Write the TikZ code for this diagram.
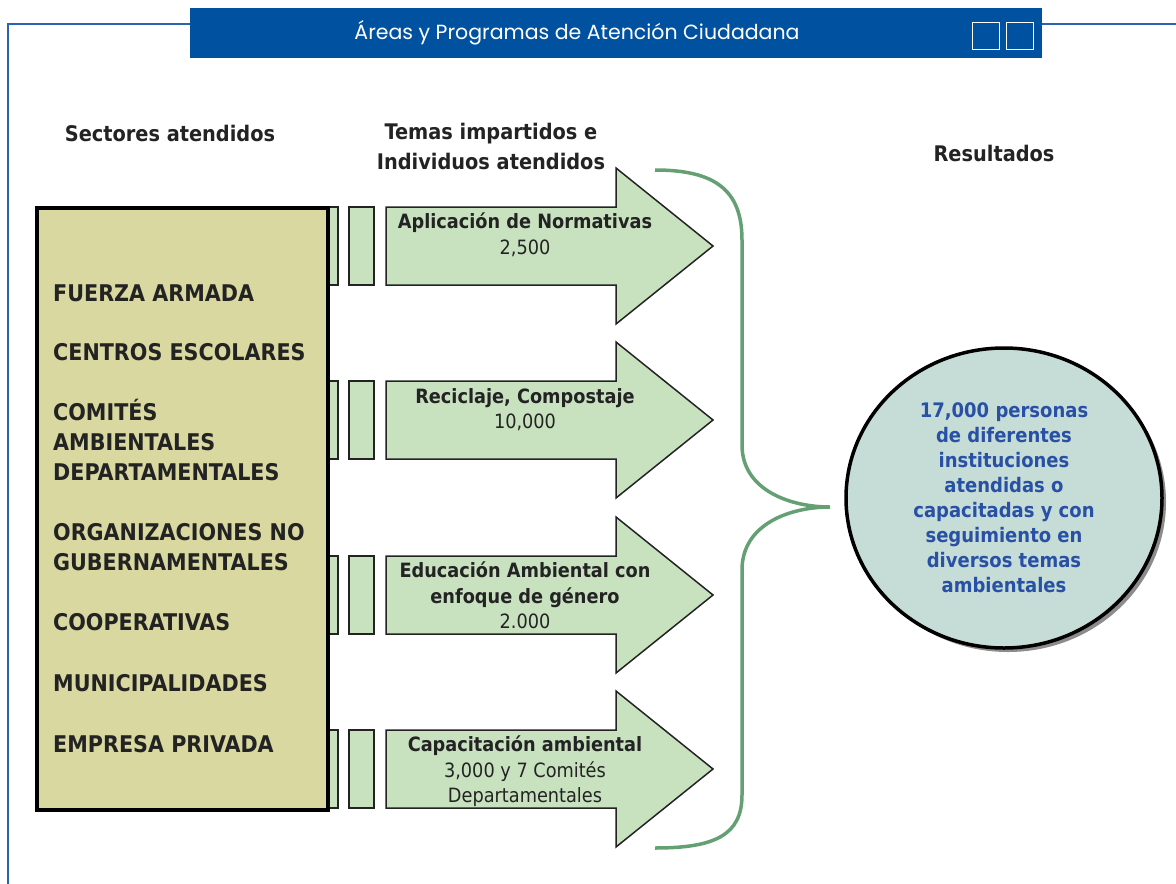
\documentclass[tikz,border=0pt]{standalone}
\usepackage{fontspec}
\setmainfont{DejaVu Sans Condensed}
\newfontfamily\titlefont{Poppins}
\usetikzlibrary{shapes.geometric, shadows, calc}
\definecolor{titleblue}{RGB}{0,82,160}
\definecolor{frameblue}{RGB}{40,100,175}
\definecolor{sectoryellow}{RGB}{216,216,160}
\definecolor{arrowgreen}{RGB}{200,226,192}
\definecolor{bracegreen}{RGB}{100,160,115}
\definecolor{circlefill}{RGB}{198,220,214}
\definecolor{resblue}{RGB}{40,80,165}
\definecolor{inkgray}{RGB}{35,35,35}

\begin{document}
\begin{tikzpicture}[
  x=1pt, y=-1pt,
  frame/.style={draw=frameblue, line width=1.2pt},
  header/.style={font=\fontsize{21.5}{30}\selectfont\bfseries, text=inkgray,
    align=center, inner sep=0pt},
  sector/.style={font=\fontsize{23}{30}\selectfont\bfseries, text=inkgray,
    inner sep=0pt, anchor=base west},
  tema/.style={font=\fontsize{19.7}{25.5}\selectfont, text=inkgray,
    align=center, inner sep=0pt, anchor=north},
  tab/.style={draw=inkgray, line width=1.5pt, fill=arrowgreen},
  flecha/.style={draw=inkgray, line width=1.5pt, fill=arrowgreen, line join=miter},
]
\useasboundingbox (0,0) rectangle (1176,884);

% ── Frame and title bar
\draw[frame] (8,884) -- (8,24) -- (190,24);
\draw[frame] (1042,24) -- (1176,24);
\node[fill=titleblue, minimum width=852pt, minimum height=50pt,
      inner sep=0pt, anchor=north west] (titulo) at (190,8) {};
\node[text=white, font=\titlefont\fontsize{20.5}{22}\selectfont] (tituloTxt) at (577,33)
  {Áreas y Programas de Atención Ciudadana};
\node[draw=white, line width=1.2pt, minimum size=27pt, inner sep=0pt] (cuadroA) at (986,36) {};
\node[draw=white, line width=1.2pt, minimum size=27pt, inner sep=0pt] (cuadroB) at (1020,36) {};

% ── Column headers
\node[header] (hSectores) at (170,133) {Sectores atendidos};
\node[header] (hTemas) at (491,146) {Temas impartidos e\\Individuos atendidos};
\node[header] (hResultados) at (994,153) {Resultados};

% ── Arrows (tabs + arrow body)
\foreach \yc in {246,420,595,769}{
  \draw[tab] (320,\yc-39) rectangle (338,\yc+39);
  \draw[tab] (349,\yc-39) rectangle (374,\yc+39);
  \draw[flecha] (386,\yc-39) -- (616,\yc-39) -- (616,\yc-78) -- (713,\yc)
    -- (616,\yc+78) -- (616,\yc+39) -- (386,\yc+39) -- cycle;
}

% ── Sectors box
\node[draw=black, line width=3.5pt, fill=sectoryellow, minimum width=291pt,
      minimum height=602pt, inner sep=0pt, anchor=north west] (sectores) at (35,206) {};
\foreach \txt/\yy in {FUERZA ARMADA/301, CENTROS ESCOLARES/360, COMITÉS/420,
    AMBIENTALES/450, DEPARTAMENTALES/480, ORGANIZACIONES NO/540,
    GUBERNAMENTALES/570, COOPERATIVAS/630, MUNICIPALIDADES/691, EMPRESA PRIVADA/752}
  \node[sector] (s\yy) at (53,\yy) {\txt};

% ── Topics
\node[tema] (tema1) at (525,213) {\textbf{Aplicación de Normativas}\\2,500};
\node[tema] (tema2) at (525,388) {\textbf{Reciclaje, Compostaje}\\10,000};
\node[tema] (tema3) at (525,562) {\textbf{Educación Ambiental con}\\\textbf{enfoque de género}\\2.000};
\node[tema] (tema4) at (525,736) {\textbf{Capacitación ambiental}\\3,000 y 7 Comités\\Departamentales};

% ── Brace
\coordinate (llaveTop) at (655,170);
\coordinate (llaveBot) at (655,848);
\coordinate (llavePunta) at (830,507);
\draw[bracegreen, line width=3.5pt] (llaveTop) .. controls (715,170) and (742,190) .. (742,240)
  -- (742,445) .. controls (742,490) and (790,507) .. (llavePunta)
  .. controls (790,507) and (742,524) .. (742,570)
  -- (742,795) .. controls (742,835) and (715,848) .. (llaveBot);

% ── Result
\node[ellipse, draw=black, line width=3.5pt, fill=circlefill,
      minimum width=316pt, minimum height=300pt, inner sep=0pt,
      drop shadow={shadow xshift=4pt, shadow yshift=-4pt, fill=black!45, opacity=1},
      font=\fontsize{20}{25}\selectfont\bfseries, text=resblue, align=center]
  (resultado) at (1004,498)
  {17,000 personas\\de diferentes\\instituciones\\atendidas o\\capacitadas y con\\seguimiento en\\diversos temas\\ambientales};

\end{tikzpicture}
\end{document}
